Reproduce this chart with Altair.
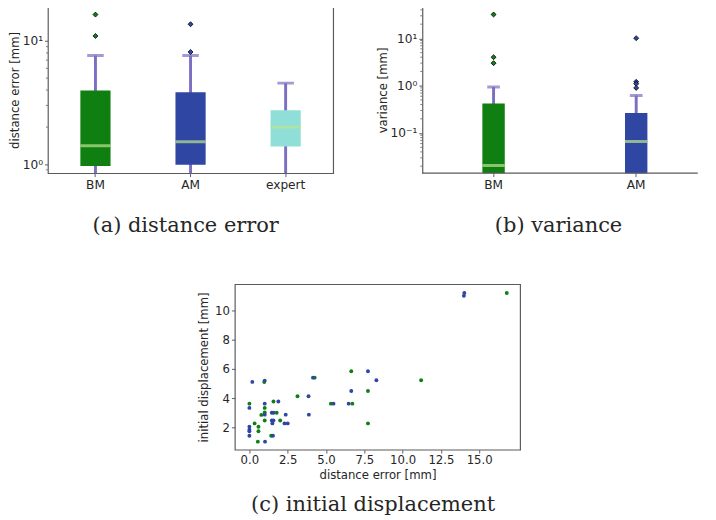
import altair as alt
import pandas as pd

# ---------------- data ----------------
# (a) distance error box plot summary
a_groups = ["BM", "AM", "expert"]
a_low = [0.55, 0.55, 0.5]
a_q1 = [0.965, 0.99, 1.39]
a_med = [1.41, 1.52, 2.0]
a_q3 = [3.96, 3.84, 2.74]
a_high = [7.62, 7.62, 4.55]
a_out_group = ["BM", "BM", "AM", "AM"]
a_out_value = [16.4, 11.0, 13.7, 8.15]

# (b) variance box plot summary
b_groups = ["BM", "AM"]
b_low = [0.001, 0.001]
b_q1 = [0.004, 0.004]
b_med = [0.0207, 0.0665]
b_q3 = [0.42, 0.266]
b_high = [0.94, 0.62]
b_out_group = ["BM", "BM", "BM", "AM", "AM", "AM", "AM"]
b_out_value = [32.0, 4.0, 3.0, 10.1, 1.21, 1.1, 0.9]

# (c) scatter: distance error vs initial displacement
bm_err = [0.0, 0.34, 0.59, 0.59, 0.55, 0.97, 1.0, 1.0, 1.0, 0.78, 1.57, 1.78, 2.01,
          1.42, 3.14, 4.26, 5.32, 6.65, 6.72, 7.74, 7.74, 11.21, 16.8]
bm_disp = [3.62, 2.27, 2.04, 1.73, 1.02, 5.1, 3.33, 3.02, 2.47, 2.85, 3.77, 3.0, 2.47,
           1.42, 4.13, 5.4, 3.62, 5.84, 3.62, 4.49, 2.27, 5.22, 11.2]
am_err = [0.0, 0.19, 0.0, 0.0, 0.0, 0.0, 1.0, 1.0, 1.0, 1.02, 1.46, 1.57, 1.46, 1.57,
          1.5, 1.54, 1.89, 2.37, 2.29, 2.5, 3.86, 3.88, 4.15, 5.49, 6.48, 6.65, 7.74,
          8.29, 14.03, 14.0]
am_disp = [3.33, 5.11, 2.04, 1.84, 1.73, 1.42, 5.2, 3.62, 2.87, 1.02, 3.0, 3.0, 2.47,
           2.47, 2.27, 1.42, 3.77, 2.87, 2.27, 2.27, 4.13, 2.87, 5.4, 3.62, 3.62, 4.49,
           5.84, 5.22, 11.2, 11.0]

group_names = ["BM", "AM", "expert"]
group_colors = ["#0f7f12", "#2f46a2", "#8fdfd8"]

WHISKER = "#7b6fc1"
MEDIAN = "#b9e690"
FRAME = "#5a5a5a"
TEXT = "#262626"
LABEL_FONT = "DejaVu Sans"
CAP_FONT = "DejaVu Serif"
TICK_FS = 12.5
TITLE_FS = 12
CAP_FS = 21.5

cscale = alt.Scale(domain=group_names, range=group_colors)


def minor_ticks(lo, hi):
    vals = []
    for e in range(-4, 3):
        for m in range(2, 10):
            v = m * 10 ** e
            if lo <= v <= hi:
                vals.append(v)
    return vals


def box_panel(groups, low, q1, med, q3, high, og, ov, domain, width, height,
              box_w, cap_w, ytitle, yvals, caption, cap_dx, xrange=None,
              frame_rules=False):
    stats = pd.DataFrame(dict(g=groups, low=low, q1=q1, med=med, q3=q3, high=high))
    outl = pd.DataFrame(dict(g=og, v=ov))
    minor = pd.DataFrame(dict(m=minor_ticks(domain[0], domain[1])))

    sargs = dict(domain=groups, paddingInner=0, paddingOuter=0)
    if xrange is not None:
        sargs["range"] = xrange
    x = alt.X("g:N", scale=alt.Scale(**sargs), sort=groups,
              axis=alt.Axis(title=None, labelAngle=0, domain=False, tickSize=3.5,
                            tickColor=FRAME, labelPadding=2, labelFont=LABEL_FONT,
                            labelFontSize=TICK_FS, labelColor=TEXT))
    ys = alt.Scale(type="log", domain=domain, nice=False)
    yaxis = alt.Axis(title=ytitle, values=yvals, grid=False,
                     domain=frame_rules, domainColor=FRAME, domainWidth=1.2,
                     tickSize=3.5, tickColor=FRAME, labelPadding=2,
                     labelFont=LABEL_FONT, labelFontSize=TICK_FS, labelColor=TEXT,
                     titleFont=LABEL_FONT, titleFontSize=TITLE_FS, titleFontWeight="normal",
                     titleColor=TEXT, titlePadding=1,
                     labelExpr="datum.value >= 9 ? '10¹' : datum.value >= 0.9 ? '10⁰' : '10⁻¹'")

    base = alt.Chart(stats)
    whisk = base.mark_rule(color=WHISKER, strokeWidth=3, clip=True).encode(
        x=x, y=alt.Y("low:Q", scale=ys, axis=yaxis), y2="high:Q")
    caps = base.mark_tick(color=WHISKER, size=cap_w, thickness=3, clip=True,
                          orient="horizontal").encode(x=x, y=alt.Y("high:Q", scale=ys))
    box = base.mark_bar(size=box_w, clip=True).encode(
        x=x, y=alt.Y("q1:Q", scale=ys), y2="q3:Q",
        color=alt.Color("g:N", scale=cscale, legend=None))
    medl = base.mark_tick(color=MEDIAN, size=box_w, thickness=3, clip=True,
                          orient="horizontal").encode(x=x, y=alt.Y("med:Q", scale=ys))
    pts = alt.Chart(outl).mark_point(shape="diamond", filled=True, size=26,
                                     stroke="black", strokeWidth=0.8, opacity=1).encode(
        x=x, y=alt.Y("v:Q", scale=ys),
        fill=alt.Fill("g:N", scale=cscale, legend=None))
    mt = alt.Chart(minor).mark_rule(color=FRAME, strokeWidth=0.8).encode(
        y=alt.Y("m:Q", scale=ys), x=alt.value(-2), x2=alt.value(0))

    layers = [whisk, caps, box, medl, pts, mt]
    if frame_rules:
        one = pd.DataFrame(dict(k=[0]))
        top = alt.Chart(one).mark_rule(color=FRAME, strokeWidth=1.2).encode(
            x=alt.value(0), x2=alt.value(width), y=alt.value(0))
        bot = alt.Chart(one).mark_rule(color=FRAME, strokeWidth=1.2).encode(
            x=alt.value(0), x2=alt.value(width), y=alt.value(height))
        layers += [top, bot]
        view = alt.ViewBackground(stroke="transparent")
    else:
        view = alt.ViewBackground(stroke=FRAME, strokeWidth=1.2)

    return alt.layer(*layers).properties(
        width=width, height=height, view=view,
        title=alt.TitleParams(text=caption, orient="bottom", frame="group",
                              anchor="middle", font=CAP_FONT, fontSize=CAP_FS,
                              fontWeight="normal", color=TEXT, offset=25, dx=cap_dx))


pa = box_panel(a_groups, a_low, a_q1, a_med, a_q3, a_high, a_out_group, a_out_value,
               domain=[0.845, 19.0], width=293, height=171, box_w=31, cap_w=17,
               ytitle="distance error [mm]", yvals=[1, 10],
               caption="(a) distance error", cap_dx=-5)

pb = box_panel(b_groups, b_low, b_q1, b_med, b_q3, b_high, b_out_group, b_out_value,
               domain=[0.0142, 46.7], width=283, height=171, box_w=23, cap_w=13,
               ytitle="variance [mm]", yvals=[0.1, 1, 10],
               caption="(b) variance", cap_dx=-1.5, xrange=[0, 293], frame_rules=True)

spacer = alt.Chart(pd.DataFrame(dict(k=[0]))).mark_point(opacity=0).encode(
    x=alt.X("k:Q", axis=None), y=alt.Y("k:Q", axis=None)
).properties(width=98.5, height=170, view=alt.ViewBackground(stroke="transparent"))

sc_df = pd.DataFrame(dict(
    err=bm_err + am_err,
    disp=bm_disp + am_disp,
    g=["BM"] * len(bm_err) + ["AM"] * len(am_err)))

pc = alt.Chart(sc_df).mark_circle(size=16, opacity=1).encode(
    x=alt.X("err:Q", scale=alt.Scale(domain=[-0.95, 17.67], nice=False, zero=False),
            axis=alt.Axis(title="distance error [mm]", values=[0, 2.5, 5, 7.5, 10, 12.5, 15],
                          format=".1f", grid=False, domain=False, tickSize=3.5,
                          tickColor=FRAME, labelPadding=2, labelFont=LABEL_FONT,
                          labelFontSize=12, labelColor=TEXT, titleFont=LABEL_FONT,
                          titleFontSize=TITLE_FS, titleFontWeight="normal", titleColor=TEXT,
                          titlePadding=4)),
    y=alt.Y("disp:Q", scale=alt.Scale(domain=[0.47, 11.8], nice=False, zero=False),
            axis=alt.Axis(title="initial displacement [mm]", values=[2, 4, 6, 8, 10],
                          grid=False, domain=False, tickSize=3.5, tickColor=FRAME,
                          labelPadding=2, labelFont=LABEL_FONT, labelFontSize=12,
                          labelColor=TEXT, titleFont=LABEL_FONT, titleFontSize=TITLE_FS,
                          titleFontWeight="normal", titleColor=TEXT, titlePadding=4)),
    color=alt.Color("g:N", scale=cscale, legend=None),
    order=alt.Order("g:N", sort="descending"),
).properties(
    width=293, height=170,
    view=alt.ViewBackground(stroke=FRAME, strokeWidth=1.2),
    title=alt.TitleParams(text="(c) initial displacement", orient="bottom", frame="group",
                          anchor="middle", font=CAP_FONT, fontSize=CAP_FS,
                          fontWeight="normal", color=TEXT, offset=14, dx=-4.5))

top_row = alt.hconcat(pa, pb, spacing=91.5, bounds="flush")
bottom_row = alt.hconcat(spacer, pc, spacing=93, bounds="flush")

chart = alt.vconcat(top_row, bottom_row, spacing=285, bounds="flush").properties(
    padding={"left": -1, "top": -10.3, "right": 0, "bottom": 0},
    background="white",
)

chart.save("out.html", embed_options={"renderer": "svg", "actions": False})
